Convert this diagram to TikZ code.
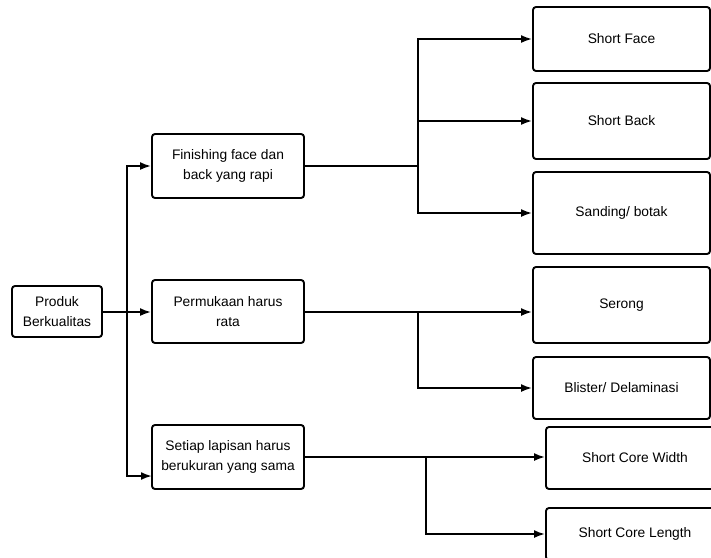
\documentclass[tikz,border=0pt]{standalone}
\usepackage{fontspec}
\setmainfont{Liberation Sans}
\usetikzlibrary{arrows.meta}
\begin{document}
\begin{tikzpicture}[x=1pt,y=-1pt,
  box/.style={draw=black,line width=1.9pt,rounded corners=3pt,inner sep=0pt,align=center,
    font=\fontsize{13.8}{20}\selectfont},
  arr/.style={line width=1.9pt,-{Latex[length=11pt,width=8pt]}},
  ln/.style={line width=1.9pt}]
\useasboundingbox (0,0) rectangle (711,557);
\clip (0,0) rectangle (711,557);
\fill[white] (0,0) rectangle (711,557);
\node[box,minimum width=90pt,minimum height=51pt] (prod) at (57,311.5) {Produk\\Berkualitas};
\node[box,minimum width=152pt,minimum height=64pt] (fin) at (228,166) {Finishing face dan\\back yang rapi};
\node[box,minimum width=152pt,minimum height=63pt] (perm) at (228,311.5) {Permukaan harus\\rata};
\node[box,minimum width=152pt,minimum height=64pt] (set) at (228,457) {Setiap lapisan harus\\berukuran yang sama};
\node[box,minimum width=177pt,minimum height=64pt] (sf) at (621.5,39) {Short Face};
\node[box,minimum width=177pt,minimum height=76pt] (sb) at (621.5,121) {Short Back};
\node[box,minimum width=177pt,minimum height=82pt] (sand) at (621.5,213) {Sanding/ botak};
\node[box,minimum width=177pt,minimum height=76pt] (ser) at (621.5,305) {Serong};
\node[box,minimum width=177pt,minimum height=62pt] (bli) at (621.5,388) {Blister/ Delaminasi};
\node[box,minimum width=178pt,minimum height=62pt] (scw) at (635,458) {Short Core Width};
\node[box,minimum width=178pt,minimum height=52pt] (scl) at (635,534) {Short Core Length};
% junction coordinates
\coordinate (t) at (127,312);
\coordinate (sa) at (152,476);
\coordinate (j1) at (418,166);
\coordinate (j2) at (418,312);
\coordinate (j3) at (426,457);
% trunk
\draw[ln] (prod.east |- t) -- (t);
\draw[arr] (t) |- (fin.west);
\draw[arr] (t) -- (t -| perm.west);
\draw[arr] (t) |- (sa);
% finishing branch
\draw[ln] (fin.east) -- (j1);
\draw[arr] (j1) |- (sf.west);
\draw[arr] (j1) |- (sb.west);
\draw[arr] (j1) |- (sand.west);
% permukaan branch
\draw[arr] (perm.east |- j2) -- (j2 -| ser.west);
\draw[arr] (j2) |- (bli.west);
% setiap branch
\draw[arr] (set.east |- j3) -- (j3 -| scw.west);
\draw[arr] (j3) |- (scl.west);
\end{tikzpicture}
\end{document}
